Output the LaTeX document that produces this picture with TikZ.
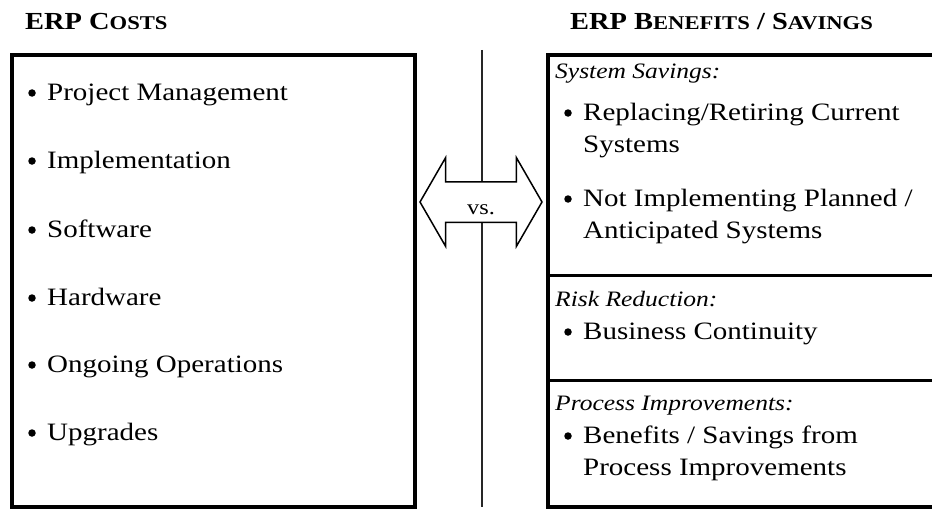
\documentclass[tikz,border=0pt]{standalone}
\usepackage{fontspec}
\setmainfont{Liberation Serif}[FakeStretch=1.16]
\usetikzlibrary{shapes.arrows, positioning, calc}

\tikzset{
  hd/.style={anchor=base west, inner sep=0pt, font=\fontsize{24.5}{28}\selectfont\bfseries},
  bx/.style={draw=black, line width=3.5pt, rectangle, inner sep=0pt},
  dot/.style={circle, fill=black, inner sep=0pt, minimum size=7.5pt},
  txt/.style={anchor=base west, inner sep=0pt, font=\fontsize{25}{30}\selectfont},
  sect/.style={anchor=base west, inner sep=0pt, font=\fontsize{22}{26}\selectfont\itshape},
  divline/.style={line width=3pt},
}
\newcommand{\smc}[1]{{\fontsize{19.5}{22}\selectfont #1}}

\begin{document}
\begin{tikzpicture}[x=1pt, y=-1pt]
\useasboundingbox (0,0) rectangle (932,511);

% headings
\node[hd] at (25,30) (hcost) {ERP C\smc{OSTS}};
\node[hd] at (570,30) (hben) {ERP B\smc{ENEFITS} / S\smc{AVINGS}};

% boxes
\node[bx, minimum width=403pt, minimum height=452pt] at (213.5,281) (costs) {};
\node[bx, minimum width=392pt, minimum height=452pt] at (744,281) (ben) {};

\coordinate (d1) at (548,275);
\coordinate (d2) at (548,380);
\draw[divline] (d1) -- (d1 -| ben.east);
\draw[divline] (d2) -- (d2 -| ben.east);

% separator and arrow
\coordinate (septop) at (482,50);
\coordinate (sepbot) at (482,507);
\draw[line width=1.6pt, black!85] (septop) -- (sepbot);

\node[draw=black, fill=white, line width=1.5pt, double arrow, double arrow tip angle=120,
      double arrow head extend=24pt, minimum height=122pt,
      inner sep=0pt, text height=32pt, text depth=7pt,
      font=\fontsize{21}{24}\selectfont] at (481,202) (vs) {vs.};

% costs
\node[dot] at (32,93) (cb1) {};
\node[txt] at (47,100) (c1) {Project Management};
\node[dot] at (32,161) (cb2) {};
\node[txt] at (47,168) (c2) {Implementation};
\node[dot] at (32,230) (cb3) {};
\node[txt] at (47,237) (c3) {Software};
\node[dot] at (32,298) (cb4) {};
\node[txt] at (47,305) (c4) {Hardware};
\node[dot] at (32,365) (cb5) {};
\node[txt] at (47,372) (c5) {Ongoing Operations};
\node[dot] at (32,433) (cb6) {};
\node[txt] at (47,440) (c6) {Upgrades};

% benefits / savings
\node[sect] at (555,78) (s1) {System Savings:};
\node[dot] at (568,113) (bb1) {};
\node[txt] at (583,120) (b1) {Replacing/Retiring Current};
\node[txt] at (583,152) (b1x) {Systems};
\node[dot] at (568,199) (bb2) {};
\node[txt] at (583,206) (b2) {Not Implementing Planned /};
\node[txt] at (583,238) (b2x) {Anticipated Systems};

\node[sect] at (555,306) (s2) {Risk Reduction:};
\node[dot] at (568,332) (bb3) {};
\node[txt] at (583,339) (b3) {Business Continuity};

\node[sect] at (555,410) (s3) {Process Improvements:};
\node[dot] at (568,436) (bb4) {};
\node[txt] at (583,443) (b4) {Benefits / Savings from};
\node[txt] at (583,475) (b4x) {Process Improvements};

\end{tikzpicture}
\end{document}
